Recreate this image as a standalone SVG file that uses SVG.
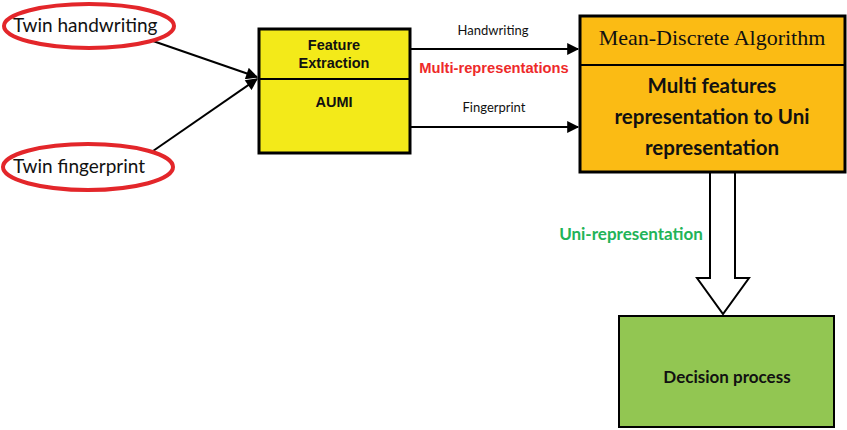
<svg xmlns="http://www.w3.org/2000/svg" width="847" height="430" viewBox="0 0 847 430">
<defs>
<style>
.ell{fill:#fff;stroke:#e3262a;stroke-width:4}
.box{stroke:#000;stroke-width:3}
.ln{stroke:#000;stroke-width:2;fill:none}
.cal{font-family:Lato,"Open Sans",sans-serif;fill:#111}
.ar{font-family:"Liberation Sans",Arial,sans-serif;font-weight:bold;fill:#111}
</style>
<marker id="ah" viewBox="0 0 10 10" refX="9" refY="5" markerWidth="6.5" markerHeight="6" orient="auto" markerUnits="strokeWidth">
<path d="M0,0 L10,5 L0,10 z" fill="#000"/>
</marker>
</defs>
<rect width="847" height="430" fill="#fff"/>
<g id="connectors">
<line class="ln" x1="153" y1="41" x2="257" y2="77" marker-end="url(#ah)"/>
<line class="ln" x1="153" y1="151" x2="257" y2="79" marker-end="url(#ah)"/>
<line class="ln" x1="410" y1="49" x2="578" y2="49" marker-end="url(#ah)"/>
<line class="ln" x1="410" y1="127" x2="578" y2="127" marker-end="url(#ah)"/>
<path d="M710,173 L710,278 L697,278 L723,314 L749,278 L735,278 L735,173" fill="#fff" stroke="#000" stroke-width="2"/>
<text x="493" y="35" text-anchor="middle" class="cal" font-size="13">Handwriting</text>
<text x="494" y="73" text-anchor="middle" font-family="Liberation Sans,Arial,sans-serif" font-weight="bold" font-size="14.7" fill="#ee2a2a">Multi-representations</text>
<text x="494" y="112" text-anchor="middle" class="cal" font-size="13">Fingerprint</text>
<text x="631" y="240" text-anchor="middle" font-family="Lato,'Open Sans',sans-serif" font-weight="bold" font-size="17" fill="#22b357">Uni-representation</text>
</g>
<g id="twin-handwriting">
<ellipse class="ell" cx="89" cy="26" rx="85" ry="22"/>
<text x="13" y="32" class="cal" font-size="19">Twin handwriting</text>
</g>
<g id="twin-fingerprint">
<ellipse class="ell" cx="88" cy="167" rx="85" ry="23"/>
<text x="13" y="173" class="cal" font-size="19">Twin fingerprint</text>
</g>
<g id="feature-extraction">
<rect class="box" x="259" y="29" width="151" height="124" fill="#f3ea19"/>
<line class="ln" x1="259" y1="79" x2="410" y2="79"/>
<text x="334" y="50" text-anchor="middle" class="ar" font-size="14.5">Feature</text>
<text x="334" y="68" text-anchor="middle" class="ar" font-size="14.5">Extraction</text>
<text x="334" y="107" text-anchor="middle" class="ar" font-size="14.5">AUMI</text>
</g>
<g id="mean-discrete">
<rect class="box" x="580" y="16" width="265" height="156" fill="#fbbb14"/>
<line class="ln" x1="580" y1="65" x2="845" y2="65"/>
<text x="712" y="45" text-anchor="middle" font-family="Liberation Serif,'Times New Roman',serif" font-size="22" fill="#111">Mean-Discrete Algorithm</text>
<text x="712" y="93" text-anchor="middle" class="cal" font-weight="bold" font-size="20.5">Multi features</text>
<text x="712" y="124" text-anchor="middle" class="cal" font-weight="bold" font-size="20.5">representation to Uni</text>
<text x="712" y="155" text-anchor="middle" class="cal" font-weight="bold" font-size="20.5">representation</text>
</g>
<g id="decision">
<rect x="619" y="316" width="215" height="111" fill="#92c652" stroke="#000" stroke-width="2"/>
<text x="727" y="383" text-anchor="middle" class="cal" font-weight="bold" font-size="17">Decision process</text>
</g>
</svg>
